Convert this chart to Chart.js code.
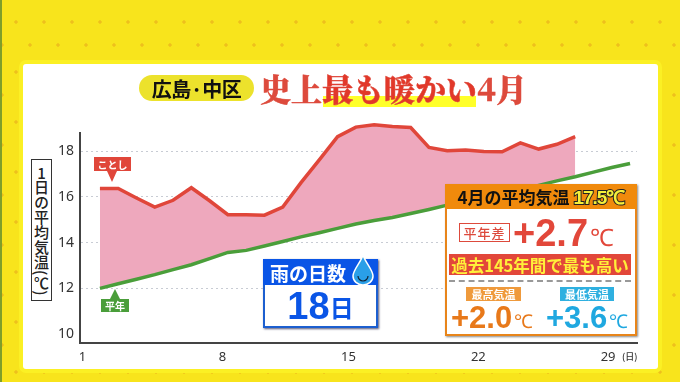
<!DOCTYPE html>
<html>
<head>
<meta charset="utf-8">
<script src="https://cdn.jsdelivr.net/npm/chart.js@4/dist/chart.umd.min.js"></script>
<style>
html, body { margin: 0; padding: 0; }
body { width: 680px; height: 382px; overflow: hidden; position: relative; font-family: "Noto Sans CJK JP", sans-serif; font-weight: 700;
	background-color: #f8e41c;
	background-image: radial-gradient(circle, #eec01c 1.4px, transparent 2px), radial-gradient(circle, #eec01c 1.4px, transparent 2px);
	background-size: 28px 50px; background-position: 2px -3px, 16px 20px; }
.abs { position: absolute; white-space: nowrap; }
#panel { left: 23px; top: 64px; width: 635px; height: 305px; background: #fff; border-radius: 3px; box-shadow: 0 0 0 4px #fbf024; }
#strip { left: 0; top: 0; width: 2px; height: 382px; background: #7f9e2a; }
#chartWrap { position: absolute; left: 0; top: 0; width: 680px; height: 382px; }
.center { display: flex; align-items: center; justify-content: center; }
</style>
</head>
<body>
<div class="abs" id="strip"></div>
<div class="abs" id="panel"></div>
<div id="chartWrap"><canvas id="chart" width="680" height="382"></canvas></div>
<!-- the axis line stops short of the scale top, the red peak rises above it -->
<div class="abs" style="left:74px;top:106px;width:10px;height:26px;background:#fff"></div>

<div class="abs center" style="left:139px;top:75px;width:115px;height:26px;background:#ece22c;border-radius:13px;font-size:20px;letter-spacing:-0.5px;color:#111">広島·中区</div>
<div class="abs" style="left:323px;top:96px;width:153px;height:11px;background:#ffff2a"></div>
<div class="abs" style="left:260px;top:70px;font-family:'Noto Serif CJK JP','Noto Sans CJK JP';font-size:31px;line-height:36px;font-weight:900;color:#dd4a3c;-webkit-text-stroke:0.5px #dd4a3c">史上<span style="color:#e2382a">最も暖かい</span>4月</div>

<div class="abs" style="left:31px;top:159px;width:21px;height:142px;border:1.5px solid #333;box-sizing:border-box;background:#fff"></div>
<div class="abs center" style="left:31px;top:159px;width:21px;height:142px;writing-mode:vertical-rl;font-size:15px;font-weight:500;color:#222"><span style="text-combine-upright:all">1</span>日の平均気温(℃)</div>

<div class="abs center" style="left:94px;top:157px;width:37px;height:14px;background:#e0463a;color:#fff;font-size:10px">ことし</div>
<div class="abs" style="left:107px;top:171px;border-left:5px solid transparent;border-right:5px solid transparent;border-top:11px solid #e0463a"></div>
<div class="abs center" style="left:101px;top:299px;width:28px;height:13px;background:#4a9e3a;color:#fff;font-size:10px">平年</div>
<div class="abs" style="left:110px;top:289px;border-left:5px solid transparent;border-right:5px solid transparent;border-bottom:10px solid #4a9e3a"></div>

<div class="abs" style="left:263px;top:259px;width:115px;height:69px;box-sizing:border-box;background:#fff;border:2px solid #1c5fd0;box-shadow:1px 1px 2px #557"></div>
<div class="abs center" style="left:263px;top:259px;width:115px;height:26px;background:#0a55e6;color:#fff;font-size:19px;justify-content:flex-start;padding-left:7px;box-sizing:border-box">雨の日数</div>
<svg class="abs" style="left:350px;top:254px" width="26" height="32" viewBox="0 0 26 32"><path d="M13 1 C15 8 23 16 23 22 A10 9 0 0 1 3 22 C3 16 11 8 13 1Z" fill="#2a9fe8" stroke="#fff" stroke-width="1.5"/><path d="M8 22 a5 5 0 0 0 10 0" fill="none" stroke="#123" stroke-width="1.2"/></svg>
<div class="abs center" style="left:263px;top:285px;width:115px;height:43px;color:#0a55e6;font-size:38px;font-family:'Liberation Sans','Noto Sans CJK JP'">18<span style="font-size:24px;font-family:'Noto Sans CJK JP'">日</span></div>

<div class="abs" style="left:445px;top:184px;width:192px;height:152px;box-sizing:border-box;background:#fff;border:2px solid #e8851a;box-shadow:1px 1px 2px #888"></div>
<div class="abs center" style="left:445px;top:184px;width:192px;height:25px;background:#f08a0c;color:#111;font-size:17px">4月の平均気温&nbsp;<span style="color:#f6f03a;font-size:19px;-webkit-text-stroke:2px #222;paint-order:stroke fill;font-family:'Liberation Sans';letter-spacing:-1px">17.5℃</span></div>
<div class="abs center" style="left:459px;top:223px;width:51px;height:19px;box-sizing:border-box;border:1px solid #dd4a3c;color:#dd4a3c;font-size:13px;font-weight:500;letter-spacing:1px">平年差</div>
<div class="abs" style="left:513px;top:208px;font-family:'Liberation Sans';font-size:38px;line-height:50px;color:#e2473a">+2.7<span style="font-size:24px;font-weight:400;margin-left:2px">℃</span></div>
<div class="abs center" style="left:449px;top:254px;width:182px;height:21px;background:#e2473a;color:#fff03a;font-size:16.5px">過去145年間で最も高い</div>
<div class="abs" style="left:449px;top:280px;width:182px;border-top:2px dashed #999"></div>
<div class="abs center" style="left:466px;top:287px;width:55px;height:14px;background:#ef9a3c;color:#fff;font-size:11px">最高気温</div>
<div class="abs center" style="left:560px;top:287px;width:54px;height:14px;background:#2fb0e0;color:#fff;font-size:11px">最低気温</div>
<div class="abs" style="left:451px;top:298px;font-family:'Liberation Sans';font-size:31px;line-height:40px;color:#e8791a">+2.0<span style="font-size:19px;font-weight:400;margin-left:2px">℃</span></div>
<div class="abs" style="left:546px;top:298px;font-family:'Liberation Sans';font-size:31px;line-height:40px;color:#1fa8e0">+3.6<span style="font-size:19px;font-weight:400;margin-left:2px">℃</span></div>
<div class="abs" style="left:622px;top:350px;font-size:9px;font-weight:500;color:#333">(日)</div>

<script>
const days = [1, 2, 3, 4, 5, 6, 7, 8, 9, 10, 11, 12, 13, 14, 15, 16, 17, 18, 19, 20, 21, 22, 23, 24, 25, 26, 27, 28, 29, 30];
const thisYear = [16.37, 16.37, 15.95, 15.55, 15.85, 16.4, 15.83, 15.22, 15.22, 15.2, 15.55, 16.62, 17.62, 18.63, 19.05, 19.15, 19.08, 19.03, 18.16, 18.02, 18.05, 17.98, 17.97, 18.36, 18.09, 18.3, 18.63];
const normal = [12.0, 12.2, 12.4, 12.6, 12.82, 13.03, 13.3, 13.57, 13.66, 13.85, 14.05, 14.25, 14.43, 14.62, 14.81, 14.97, 15.1, 15.27, 15.45, 15.64, 15.82, 15.95, 16.1, 16.3, 16.5, 16.7, 16.88, 17.08, 17.28, 17.46];
const xTicks = [1, 8, 15, 22, 29];
const yTicks = [10, 12, 14, 16, 18];

// the labels in the picture sit left of their day, the first one most of all
const xNudge = [-0.95, -0.3, -0.4, -0.3, -0.2];

const ctx = document.getElementById('chart').getContext('2d');
new Chart(ctx, {
	type: 'line',
	data: {
		datasets: [
			{
				label: 'ことし',
				data: thisYear.map((v, i) => ({ x: days[i], y: v })),
				borderColor: '#e0463a',
				borderWidth: 3.5,
				pointRadius: 0,
				tension: 0,
				order: 1,
				fill: { target: 1, above: '#eea8bd', below: '#eea8bd' },
			},
			{
				label: '平年',
				data: normal.map((v, i) => ({ x: days[i], y: v })),
				borderColor: '#4a9e3a',
				borderWidth: 3.5,
				pointRadius: 0,
				tension: 0,
				order: 0,
				fill: false,
			},
		],
	},
	options: {
		responsive: false,
		animation: false,
		parsing: false,
		layout: { padding: { top: 112, right: 43, left: 0, bottom: 0 } },
		plugins: { legend: { display: false }, tooltip: { enabled: false } },
		scales: {
			x: {
				type: 'linear',
				min: -0.09,
				max: 30.38,
				afterFit: s => { s.height = 39; },
				afterBuildTicks: s => { s.ticks = xTicks.map((d, i) => ({ value: d + xNudge[i] })); },
				afterTickToLabelConversion: s => { s.ticks.forEach((t, i) => { t.label = String(xTicks[i]); }); },
				grid: { display: false, drawTicks: false },
				border: { color: '#444', width: 2 },
				ticks: { color: '#333', padding: 6, maxRotation: 0, autoSkip: false, font: { family: 'Noto Sans', size: 13 } },
			},
			y: {
				min: 9.61,
				max: 19.71,
				afterFit: s => { s.width = 80; },
				afterBuildTicks: s => { s.ticks = yTicks.map(v => ({ value: v })); },
				grid: {
					drawTicks: false,
					color: c => (c.tick && c.tick.value === 10 ? 'transparent' : '#c8ccd4'),
					lineWidth: 1,
				},
				border: { color: '#444', width: 2, dash: [2, 3] },
				ticks: { color: '#333', padding: 6, font: { family: 'Noto Sans', size: 14 } },
			},
		},
	},
});
</script>
</body>
</html>
